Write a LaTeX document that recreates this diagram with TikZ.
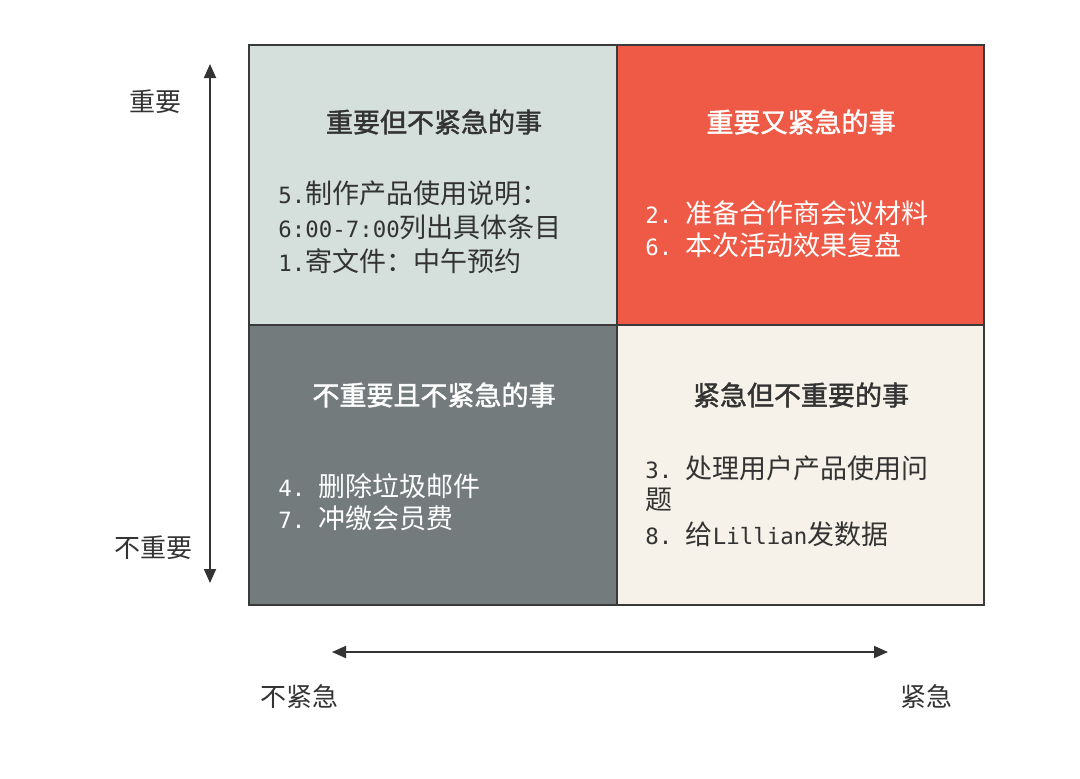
\documentclass[tikz,border=0pt]{standalone}
\usepackage{fontspec}
\setmainfont{Noto Sans CJK SC}
\newfontfamily\titlefnt{Noto Sans CJK SC}[FakeBold=1.6]
\newfontfamily\monofnt{DejaVu Sans Mono}
\newcommand{\mono}[1]{{\fontsize{11.2}{16}\monofnt #1}}
\usetikzlibrary{arrows.meta}
\definecolor{tlfill}{HTML}{D5E0DC}
\definecolor{trfill}{HTML}{EF5A46}
\definecolor{blfill}{HTML}{747B7D}
\definecolor{brfill}{HTML}{F6F2E9}
\definecolor{ink}{HTML}{333333}
\definecolor{frame}{HTML}{3A3A3A}
\tikzset{
  quad/.style={draw=frame, line width=1pt},
  title/.style={font=\fontsize{13.5}{16}\titlefnt, anchor=center, inner sep=0pt},
  item/.style={font=\fontsize{13.5}{16}\selectfont, anchor=west, inner sep=0pt},
  axlabel/.style={font=\fontsize{13}{16}\selectfont, text=ink, anchor=center, inner sep=0pt},
  axis/.style={draw=ink, line width=0.9pt, {Triangle[length=7pt,width=6pt]}-{Triangle[length=7pt,width=6pt]}},
  dark/.style={text=ink},
  light/.style={text=white}
}
\begin{document}
\begin{tikzpicture}[x=0.5pt,y=-0.5pt]
\useasboundingbox (0,0) rectangle (1080,778);
% quadrants
\path[quad, fill=tlfill] (249,45) rectangle (617,325);
\path[quad, fill=trfill] (617,45) rectangle (984,325);
\path[quad, fill=blfill] (249,325) rectangle (617,605);
\path[quad, fill=brfill] (617,325) rectangle (984,605);
% top-left
\node[title, dark] (tlT) at (434,122) {重要但不紧急的事};
\node[item, dark] (tl1) at (278,193) {\mono{5.}制作产品使用说明：};
\node[item, dark] (tl2) at (278,227) {\mono{6:00-7:00}列出具体条目};
\node[item, dark] (tl3) at (278,261) {\mono{1.}寄文件：中午预约};
% top-right
\node[title, light] (trT) at (801,122) {重要又紧急的事};
\node[item, light] (tr1) at (645,213) {\mono{2.~}准备合作商会议材料};
\node[item, light] (tr2) at (645,245) {\mono{6.~}本次活动效果复盘};
% bottom-left
\node[title, light] (blT) at (434,395) {不重要且不紧急的事};
\node[item, light] (bl1) at (278,486) {\mono{4.~}删除垃圾邮件};
\node[item, light] (bl2) at (278,518) {\mono{7.~}冲缴会员费};
% bottom-right
\node[title, dark] (brT) at (801,395) {紧急但不重要的事};
\node[item, dark] (br1) at (645,468) {\mono{3.~}处理用户产品使用问};
\node[item, dark] (br2) at (645,500) {题};
\node[item, dark] (br3) at (645,534) {\mono{8.~}给\mono{Lillian}发数据};
% axes
\coordinate (vtop) at (210,64);
\coordinate (vbot) at (210,583);
\draw[axis] (vbot) -- (vtop);
\node[axlabel] (imp) at (155,102) {重要};
\node[axlabel] (nimp) at (153,548) {不重要};
\coordinate (hleft) at (332,652);
\coordinate (hright) at (888,652);
\draw[axis] (hleft) -- (hright);
\node[axlabel] (nurg) at (299,697) {不紧急};
\node[axlabel] (urg) at (926,697) {紧急};
\end{tikzpicture}
\end{document}
